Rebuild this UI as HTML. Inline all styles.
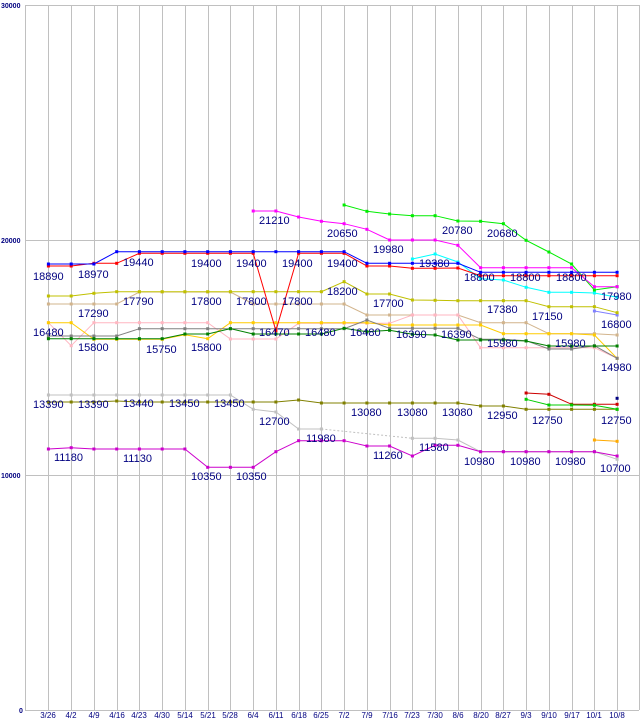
<!DOCTYPE html>
<html><head><meta charset="utf-8"><style>
html,body{margin:0;padding:0;background:#fff;width:640px;height:720px;overflow:hidden}
svg{display:block}
.l{font-family:"Liberation Sans",sans-serif;font-size:11px;fill:#000080}
.a{font-family:"Liberation Sans",sans-serif;font-size:7px;font-weight:bold;fill:#000080}
.x{font-family:"Liberation Sans",sans-serif;font-size:8px;fill:#000080;text-anchor:middle}
</style></head><body>
<svg id="s" width="640" height="720" viewBox="0 0 640 720" xmlns="http://www.w3.org/2000/svg">
<g id="grid" stroke="#c0c0c0" stroke-width="1" fill="none"></g>
<g id="lines"></g>
<g>
<text class="a" x="1" y="8">30000</text>
<text class="a" x="1" y="243">20000</text>
<text class="a" x="1" y="478">10000</text>
<text class="a" x="19" y="713">0</text>
</g>
<g>
<text class="x" x="48" y="718">3/26</text><text class="x" x="71" y="718">4/2</text><text class="x" x="94" y="718">4/9</text><text class="x" x="117" y="718">4/16</text><text class="x" x="139" y="718">4/23</text><text class="x" x="162" y="718">4/30</text><text class="x" x="185" y="718">5/14</text><text class="x" x="208" y="718">5/21</text><text class="x" x="230" y="718">5/28</text><text class="x" x="253" y="718">6/4</text><text class="x" x="276" y="718">6/11</text><text class="x" x="299" y="718">6/18</text><text class="x" x="321" y="718">6/25</text><text class="x" x="344" y="718">7/2</text><text class="x" x="367" y="718">7/9</text><text class="x" x="390" y="718">7/16</text><text class="x" x="412" y="718">7/23</text><text class="x" x="435" y="718">7/30</text><text class="x" x="458" y="718">8/6</text><text class="x" x="481" y="718">8/20</text><text class="x" x="503" y="718">8/27</text><text class="x" x="526" y="718">9/3</text><text class="x" x="549" y="718">9/10</text><text class="x" x="572" y="718">9/17</text><text class="x" x="594" y="718">10/1</text><text class="x" x="617" y="718">10/8</text>
</g>
<g>
<text class="l" x="33" y="280">18890</text>
<text class="l" x="78" y="278">18970</text>
<text class="l" x="123" y="266">19440</text>
<text class="l" x="191" y="267">19400</text>
<text class="l" x="236" y="267">19400</text>
<text class="l" x="282" y="267">19400</text>
<text class="l" x="327" y="267">19400</text>
<text class="l" x="259" y="224">21210</text>
<text class="l" x="327" y="237">20650</text>
<text class="l" x="373" y="253">19980</text>
<text class="l" x="442" y="234">20780</text>
<text class="l" x="487" y="237">20680</text>
<text class="l" x="419" y="267">19380</text>
<text class="l" x="464" y="281">18800</text>
<text class="l" x="510" y="281">18800</text>
<text class="l" x="556" y="281">18800</text>
<text class="l" x="601" y="300">17980</text>
<text class="l" x="123" y="305">17790</text>
<text class="l" x="78" y="317">17290</text>
<text class="l" x="191" y="305">17800</text>
<text class="l" x="236" y="305">17800</text>
<text class="l" x="282" y="305">17800</text>
<text class="l" x="327" y="295">18200</text>
<text class="l" x="373" y="307">17700</text>
<text class="l" x="487" y="313">17380</text>
<text class="l" x="532" y="320">17150</text>
<text class="l" x="601" y="328">16800</text>
<text class="l" x="33" y="336">16480</text>
<text class="l" x="78" y="351">15800</text>
<text class="l" x="146" y="353">15750</text>
<text class="l" x="191" y="351">15800</text>
<text class="l" x="259" y="336">16470</text>
<text class="l" x="305" y="336">16480</text>
<text class="l" x="350" y="336">16480</text>
<text class="l" x="396" y="338">16390</text>
<text class="l" x="441" y="338">16390</text>
<text class="l" x="487" y="347">15980</text>
<text class="l" x="555" y="347">15980</text>
<text class="l" x="601" y="371">14980</text>
<text class="l" x="33" y="408">13390</text>
<text class="l" x="78" y="408">13390</text>
<text class="l" x="123" y="407">13440</text>
<text class="l" x="169" y="407">13450</text>
<text class="l" x="214" y="407">13450</text>
<text class="l" x="259" y="425">12700</text>
<text class="l" x="306" y="442">11980</text>
<text class="l" x="351" y="416">13080</text>
<text class="l" x="397" y="416">13080</text>
<text class="l" x="442" y="416">13080</text>
<text class="l" x="487" y="419">12950</text>
<text class="l" x="532" y="424">12750</text>
<text class="l" x="601" y="424">12750</text>
<text class="l" x="54" y="461">11180</text>
<text class="l" x="123" y="462">11130</text>
<text class="l" x="191" y="480">10350</text>
<text class="l" x="236" y="480">10350</text>
<text class="l" x="373" y="459">11260</text>
<text class="l" x="419" y="451">11580</text>
<text class="l" x="464" y="465">10980</text>
<text class="l" x="510" y="465">10980</text>
<text class="l" x="555" y="465">10980</text>
<text class="l" x="600" y="472">10700</text>
</g>
</svg>
<script>
(function(){
var NS="http://www.w3.org/2000/svg";
function X(i){return 48.4+22.75*i;}
var g=document.getElementById('grid');
function ln(x1,y1,x2,y2){var e=document.createElementNS(NS,'line');e.setAttribute('x1',x1);e.setAttribute('y1',y1);e.setAttribute('x2',x2);e.setAttribute('y2',y2);g.appendChild(e);}
[5.5,240.5,475.5,710.5].forEach(function(y){ln(25,y,639,y);});
ln(25.5,5,25.5,710);ln(639.5,5,639.5,710);
for(var i=0;i<26;i++){var x=Math.round(X(i))+0.5;ln(x,5,x,710);}
function rep(a,b,y){var r=[];for(var i=a;i<=b;i++)r.push([i,y]);return r;}
function S(c,parts){var p=[];parts.forEach(function(q){if(typeof q[0]==='number')p.push(q);else p=p.concat(q);});return {c:c,p:p};}
var series=[
S('#c0c0c0',[rep(0,8,395),[9,409.3],[10,412],[11,429],[12,429]]),
S('#c0c0c0',[[16,438.3],[17,438.3],[18,440],rep(19,24,451.7),[25,459.3]]),
S('#808000',[[0,402],[1,402],[2,402],[3,401],rep(4,10,402),[11,400],rep(12,18,403),[19,406],[20,406],rep(21,25,409.3)]),
S('#cc00cc',[[0,449],[1,447.7],rep(2,6,449),rep(7,9,467.3),[10,451.7],rep(11,13,440.7),[14,446],[15,446],[16,456],[17,445.3],[18,445.3],rep(19,24,451.7),[25,456]]),
S('#cc0000',[[21,393],[22,394.3],rep(23,25,404.3)]),
S('#00cc00',[[21,399.3],[22,405],[23,405],[24,405.3],[25,409.3]]),
S('#ffaa00',[[24,440],[25,441.3]]),
S('#d2b48c',[rep(0,3,304),rep(4,8,292),rep(9,13,304),rep(14,18,315),rep(19,21,322.7),rep(22,24,333.7),[25,335]]),
S('#ffb6c1',[[0,322.7],[1,345.7],rep(2,7,322.7),rep(8,10,339),rep(11,15,323.3),rep(16,18,315),rep(19,24,347.7),[25,358.3]]),
S('#ffcc00',[[0,322.7],[1,322.7],rep(2,5,339.3),[6,334.7],[7,338.7],rep(8,14,322.7),rep(15,19,325),rep(20,23,333.7),[24,335],[25,358.3]]),
S('#808080',[rep(0,3,336),rep(4,13,328.7),[14,320],rep(15,18,328.3),[19,339.3],[20,339.3],[21,340.7],[22,349],[23,349],[24,345.7],[25,358.3]]),
S('#008000',[rep(0,5,338.7),[6,334],[7,334],[8,328.7],rep(9,12,334),[13,328.3],[14,331.7],[15,330.3],[16,334.3],[17,335],rep(18,20,340),[21,341],rep(22,25,346)]),
S('#8080ff',[[24,311],[25,315]]),
S('#c0c000',[[0,296],[1,296],[2,293.3],rep(3,12,291.7),[13,281.7],[14,294],[15,294],[16,300],[17,300.3],rep(18,21,300.7),rep(22,24,306.7),[25,312.7]]),
S('#00ffff',[[16,259],[17,254],[18,262],[19,278.7],[20,280],[21,287.3],[22,292.3],[23,292.3],[24,293],[25,297.3]]),
S('#00ee00',[[13,205],[14,211.3],[15,214],[16,215.7],[17,215.7],[18,221],[19,221.3],[20,223.7],[21,240.3],[22,252],[23,264],[24,290],[25,286.7]]),
S('#ff00ff',[[9,211],[10,211],[11,217],[12,221.3],[13,223.7],[14,229.3],rep(15,17,240),[18,245.3],rep(19,23,267.7),[24,286.7],[25,286.7]]),
S('#ff0000',[[0,266],[1,266],[2,263.3],[3,263.3],rep(4,9,253.3),[10,330.7],rep(11,13,253.3),[14,266],[15,266],[16,268.3],[17,268.3],[18,268],rep(19,25,275.7)]),
S('#0000ff',[[0,264],[1,264],[2,264],rep(3,13,251.7),rep(14,18,263.3),rep(19,25,272.3)]),
S('#000080',[[25,398.3]])
];
var L=document.getElementById('lines');
var d=document.createElementNS(NS,'polyline');
d.setAttribute('points',X(12)+',429 '+X(16)+',438.3');d.setAttribute('stroke','#c0c0c0');d.setAttribute('stroke-dasharray','2,2');d.setAttribute('fill','none');L.appendChild(d);
series.forEach(function(s){
 if(s.p.length>1){var pl=document.createElementNS(NS,'polyline');
 pl.setAttribute('points',s.p.map(function(q){return X(q[0]).toFixed(1)+','+q[1];}).join(' '));
 pl.setAttribute('stroke',s.c);pl.setAttribute('fill','none');pl.setAttribute('stroke-width','1');L.appendChild(pl);}
 s.p.forEach(function(q){var r=document.createElementNS(NS,'rect');r.setAttribute('x',(X(q[0])-1.5).toFixed(1));r.setAttribute('y',q[1]-1.5);r.setAttribute('width',3);r.setAttribute('height',3);r.setAttribute('fill',s.c);L.appendChild(r);});
});
})();
</script>
</body></html>
